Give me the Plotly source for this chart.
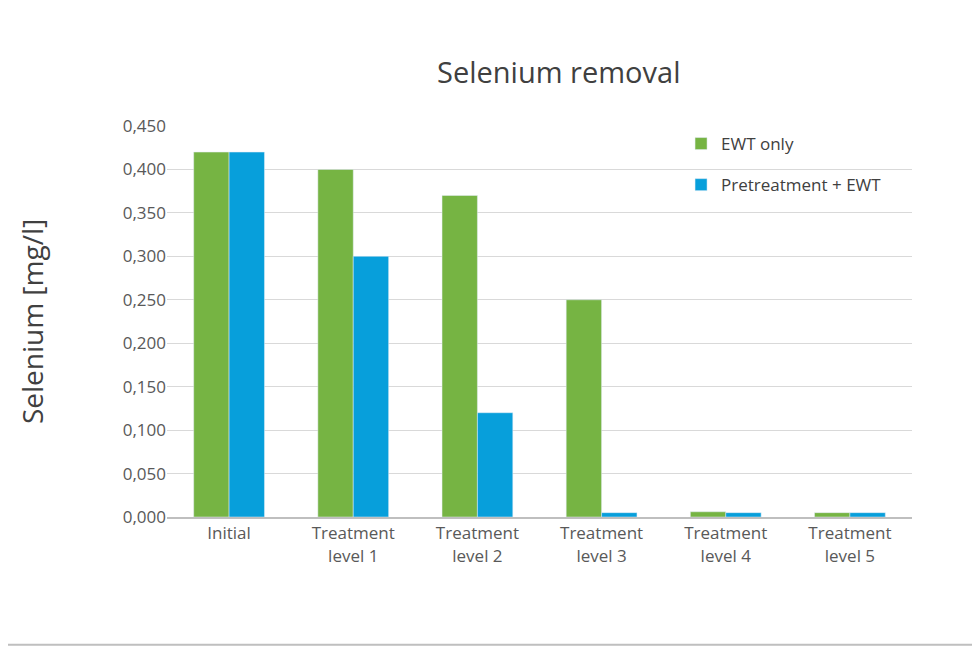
import plotly.graph_objects as go

categories = ['Initial', 'Treatment<br>level 1', 'Treatment<br>level 2', 'Treatment<br>level 3', 'Treatment<br>level 4', 'Treatment<br>level 5']
ewt_only = [0.42, 0.40, 0.37, 0.25, 0.006, 0.005]
pre_ewt = [0.42, 0.30, 0.12, 0.005, 0.005, 0.005]
tick_vals = [0, 0.05, 0.1, 0.15, 0.2, 0.25, 0.3, 0.35, 0.4, 0.45]
tick_text = ['0,000', '0,050', '0,100', '0,150', '0,200', '0,250', '0,300', '0,350', '0,400', '0,450']

fig = go.Figure()
fig.add_trace(go.Bar(x=categories, y=ewt_only, name='EWT only', marker_color='#76B443', legendgroup='a'))
fig.add_trace(go.Bar(x=categories, y=pre_ewt, name='Pretreatment + EWT', marker_color='#079FDB', legendgroup='b'))

fig.update_layout(
    width=980, height=651,
    paper_bgcolor='white', plot_bgcolor='white',
    font=dict(family='Open Sans', color='#595959', size=16),
    title=dict(text='Selenium removal', x=0.562, xanchor='center', y=0.9, yanchor='middle',
               font=dict(size=29, color='#404040')),
    barmode='group', bargap=0.43, bargroupgap=0,
    margin=dict(l=159, r=76, t=118, b=142),
    legend=dict(x=0.69, y=1.0, xanchor='left', yanchor='top', bgcolor='rgba(0,0,0,0)',
                font=dict(size=17, color='#404040'), tracegroupgap=16),
    shapes=[dict(type='rect', xref='paper', yref='paper', x0=-0.2175, x1=1.085, y0=-0.327, y1=1.309,
                 line=dict(color='#BFBFBF', width=2))],
)
fig.update_yaxes(range=[0, 0.45], tickvals=tick_vals, ticktext=tick_text, showgrid=True, gridcolor='#D9D9D9',
                 zeroline=False, title=dict(text='Selenium [mg/l]', font=dict(size=28, color='#404040'), standoff=70),
                 tickfont=dict(size=17))
fig.update_xaxes(showline=True, linecolor='#BFBFBF', linewidth=2, tickfont=dict(size=17))

fig.write_html('out.html')
